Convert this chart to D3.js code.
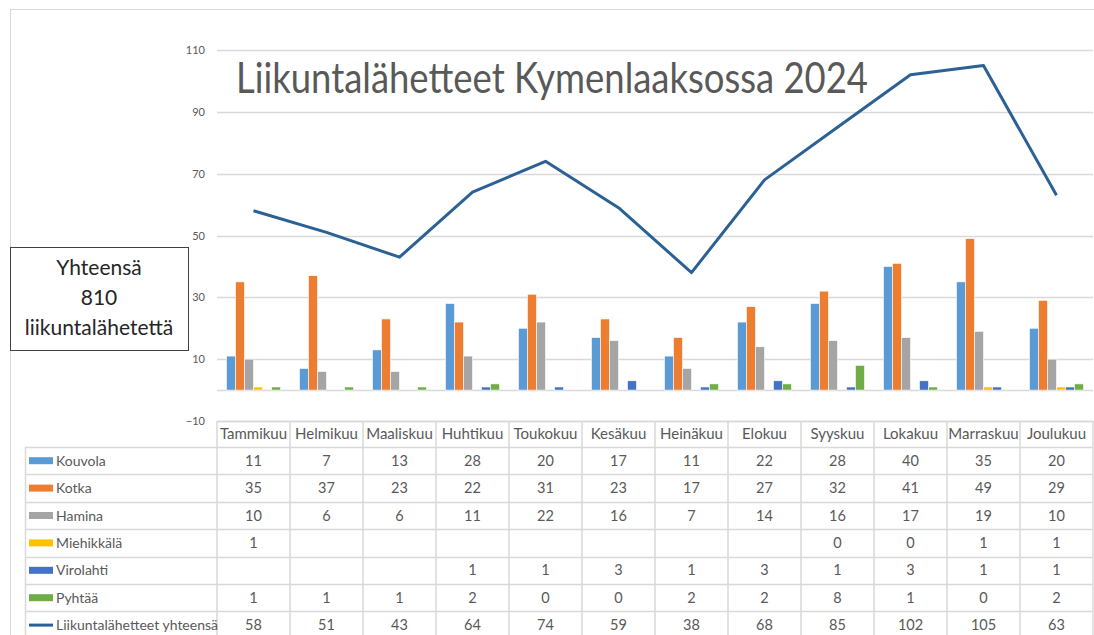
<!DOCTYPE html>
<html>
<head>
<meta charset="utf-8">
<script src="https://cdn.jsdelivr.net/npm/d3@7"></script>
<style>
  body { margin: 0; background: #fff; }
  svg { display: block; font-family: Lato, "Liberation Sans", sans-serif; }
</style>
</head>
<body>
<svg class="chart" width="1094" height="635"></svg>
<script>
// data
var months = ["Tammikuu", "Helmikuu", "Maaliskuu", "Huhtikuu", "Toukokuu", "Kesäkuu",
              "Heinäkuu", "Elokuu", "Syyskuu", "Lokakuu", "Marraskuu", "Joulukuu"];
var kouvola    = [11, 7, 13, 28, 20, 17, 11, 22, 28, 40, 35, 20];
var kotka      = [35, 37, 23, 22, 31, 23, 17, 27, 32, 41, 49, 29];
var hamina     = [10, 6, 6, 11, 22, 16, 7, 14, 16, 17, 19, 10];
var miehikkala = [1, null, null, null, null, null, null, null, 0, 0, 1, 1];
var virolahti  = [null, null, null, 1, 1, 3, 1, 3, 1, 3, 1, 1];
var pyhtaa     = [1, 1, 1, 2, 0, 0, 2, 2, 8, 1, 0, 2];
var yhteensa   = [58, 51, 43, 64, 74, 59, 38, 68, 85, 102, 105, 63];
var yTicks = [-10, 10, 30, 50, 70, 90, 110];

var barSeries = [
  { name: "Kouvola", values: kouvola, color: "#5b9bd5" },
  { name: "Kotka", values: kotka, color: "#ed7d31" },
  { name: "Hamina", values: hamina, color: "#a5a5a5" },
  { name: "Miehikkälä", values: miehikkala, color: "#ffc000" },
  { name: "Virolahti", values: virolahti, color: "#4472c4" },
  { name: "Pyhtää", values: pyhtaa, color: "#70ad47" }
];
var lineSeries = { name: "Liikuntalähetteet yhteensä", values: yhteensa, color: "#2b6194" };

var vis = d3.select(".chart"),
    WIDTH = 1094,
    PLOT = { left: 217, right: 1093, top: 50, bottom: 421 },
    TABLE_LEFT = 25,
    ROW_H = 27.4,
    textGray = "#595959",
    gridGray = "#d9d9d9";

// outer frame
vis.append("rect")
    .attr("x", 10.5).attr("y", 9.5)
    .attr("width", WIDTH).attr("height", 700)
    .attr("fill", "none").attr("stroke", "#d9d9d9");

var xScale = d3.scaleBand().domain(months).range([PLOT.left, PLOT.right]).padding(0),
    yScale = d3.scaleLinear().domain([-10, 110]).range([PLOT.bottom, PLOT.top]),
    xInner = d3.scaleBand().domain(barSeries.map(function(s) { return s.name; }))
        .range([0, xScale.bandwidth() - 19]).padding(0);

// gridlines
vis.append("g").selectAll("line")
    .data(yTicks.concat([0]))
    .enter().append("line")
    .attr("x1", PLOT.left).attr("x2", PLOT.right)
    .attr("y1", function(d) { return Math.round(yScale(d)) + 0.5; })
    .attr("y2", function(d) { return Math.round(yScale(d)) + 0.5; })
    .attr("stroke", gridGray).attr("stroke-width", 1.5);

// y axis labels
var yAxis = d3.axisLeft(yScale).tickValues(yTicks).tickSize(0).tickPadding(0);
var yG = vis.append("g")
    .attr("transform", "translate(" + (PLOT.left - 12) + ",0)")
    .call(yAxis);
yG.select(".domain").remove();
yG.selectAll("text").attr("fill", textGray).style("font-size", "11px")
    .style("font-family", "Lato, sans-serif");

// bars
barSeries.forEach(function(s) {
  vis.append("g").selectAll("rect")
      .data(s.values.map(function(v, i) { return { m: months[i], v: v }; })
          .filter(function(d) { return d.v; }))
      .enter().append("rect")
      .attr("x", function(d) { return xScale(d.m) + 9.5 + xInner(s.name); })
      .attr("width", xInner.bandwidth())
      .attr("y", function(d) { return yScale(d.v); })
      .attr("height", function(d) { return yScale(0) - yScale(d.v); })
      .attr("fill", s.color)
      .attr("stroke", "#fff").attr("stroke-width", 0.6);
});

// total line
var lineGen = d3.line()
    .x(function(d, i) { return xScale(months[i]) + xScale.bandwidth() / 2; })
    .y(function(d) { return yScale(d); });
vis.append("path")
    .attr("d", lineGen(yhteensa))
    .attr("stroke", lineSeries.color)
    .attr("stroke-width", 3)
    .attr("stroke-linejoin", "round")
    .attr("fill", "none");

// title
vis.append("text")
    .attr("x", 236).attr("y", 93)
    .attr("fill", textGray)
    .attr("textLength", 632).attr("lengthAdjust", "spacingAndGlyphs")
    .style("font-size", "42px")
    .text("Liikuntalähetteet Kymenlaaksossa 2024");

// data table
var table = vis.append("g");
var rows = barSeries.concat([lineSeries]);
var tableTop = PLOT.bottom,
    headerH = 26,
    bodyTop = tableTop + headerH,
    tableBottom = bodyTop + rows.length * ROW_H + 10;

// horizontal borders
table.append("line")
    .attr("x1", PLOT.left).attr("x2", PLOT.right)
    .attr("y1", tableTop + 0.5).attr("y2", tableTop + 0.5)
    .attr("stroke", gridGray).attr("stroke-width", 1.5);
table.selectAll(".hrow")
    .data(d3.range(rows.length + 1))
    .enter().append("line")
    .attr("x1", TABLE_LEFT).attr("x2", PLOT.right)
    .attr("y1", function(i) { return Math.round(bodyTop + i * ROW_H) + 0.5; })
    .attr("y2", function(i) { return Math.round(bodyTop + i * ROW_H) + 0.5; })
    .attr("stroke", gridGray).attr("stroke-width", 1.5);

// vertical borders
table.append("line")
    .attr("x1", TABLE_LEFT + 0.5).attr("x2", TABLE_LEFT + 0.5)
    .attr("y1", bodyTop).attr("y2", tableBottom)
    .attr("stroke", gridGray).attr("stroke-width", 1.5);
table.selectAll(".vcol")
    .data(months.concat(["end"]))
    .enter().append("line")
    .attr("x1", function(m) { return m === "end" ? PLOT.right : xScale(m); })
    .attr("x2", function(m) { return m === "end" ? PLOT.right : xScale(m); })
    .attr("y1", tableTop).attr("y2", tableBottom)
    .attr("stroke", gridGray).attr("stroke-width", 1.5);

// month headers
table.selectAll(".month")
    .data(months)
    .enter().append("text")
    .attr("x", function(m) { return xScale(m) + xScale.bandwidth() / 2; })
    .attr("y", tableTop + headerH / 2 + 5)
    .attr("text-anchor", "middle")
    .attr("fill", textGray)
    .style("font-size", "15px")
    .text(function(m) { return m; });

// rows: legend key + values
rows.forEach(function(s, r) {
  var cy = bodyTop + r * ROW_H + ROW_H / 2;
  if (s === lineSeries) {
    table.append("line")
        .attr("x1", 29).attr("x2", 53)
        .attr("y1", cy).attr("y2", cy)
        .attr("stroke", s.color).attr("stroke-width", 3);
  } else {
    table.append("rect")
        .attr("x", 29).attr("y", cy - 3.5)
        .attr("width", 24).attr("height", 7)
        .attr("fill", s.color);
  }
  table.append("text")
      .attr("x", 56).attr("y", cy + 5)
      .attr("fill", textGray)
      .style("font-size", "14px")
      .text(s.name);
  table.append("g").selectAll("text")
      .data(s.values.map(function(v, i) { return { m: months[i], v: v }; }))
      .enter().append("text")
      .attr("x", function(d) { return xScale(d.m) + xScale.bandwidth() / 2; })
      .attr("y", cy + 5)
      .attr("text-anchor", "middle")
      .attr("fill", textGray)
      .style("font-size", "14.5px")
      .text(function(d) { return d.v === null ? "" : d.v; });
});

// total box
var box = vis.append("g");
box.append("rect")
    .attr("x", 10.5).attr("y", 247.5)
    .attr("width", 178).attr("height", 103)
    .attr("fill", "#fff").attr("stroke", "#404040").attr("stroke-width", 1);
box.selectAll("text")
    .data(["Yhteensä", "810", "liikuntalähetettä"])
    .enter().append("text")
    .attr("x", 99)
    .attr("y", function(d, i) { return 275 + i * 30; })
    .attr("text-anchor", "middle")
    .attr("fill", "#262626")
    .style("font-size", "21px")
    .text(function(d) { return d; });
</script>
</body>
</html>
